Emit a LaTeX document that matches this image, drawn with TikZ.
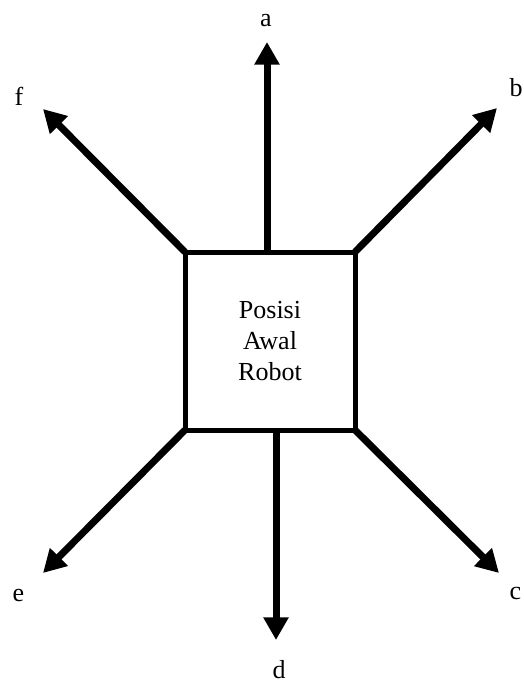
\documentclass[tikz,border=0pt]{standalone}
\usepackage{fontspec}
\setmainfont{Liberation Serif}
\newfontfamily\lserif{Liberation Serif}
\usetikzlibrary{arrows.meta}
\begin{document}
\begin{tikzpicture}[x=0.75pt,y=-0.75pt,
  txt/.style={font=\lserif\fontsize{19.5pt}{23.25pt}\selectfont, inner sep=0pt},
  robotbox/.style={draw, line width=3.75pt, minimum width=127.5pt, minimum height=133.5pt, inner sep=0pt, outer sep=0pt, align=center, txt},
  arr/.style={line width=5.25pt, -{Triangle[length=17pt,width=18pt]}}]
\useasboundingbox (0,0) rectangle (524,682);
\node[robotbox] (box) at (270,341) {Posisi\\Awal\\Robot};
\coordinate (ta) at (267,42);
\coordinate (tb) at (497,108);
\coordinate (tc) at (499,573);
\coordinate (td) at (276,640);
\coordinate (te) at (43,573);
\coordinate (tf) at (43,109);
\draw[arr] (ta |- box.north) -- (ta);
\draw[arr] (td |- box.south) -- (td);
\draw[arr] (box.north east) -- (tb);
\draw[arr] (box.south east) -- (tc);
\draw[arr] (box.south west) -- (te);
\draw[arr] (box.north west) -- (tf);
\node[txt] (la) at (266,21) {a};
\node[txt] (lb) at (516,88) {b};
\node[txt] (lc) at (515.5,593) {c};
\node[txt] (ld) at (279,670) {d};
\node[txt] (le) at (18.5,595) {e};
\node[txt] (lf) at (19,96) {f};
\end{tikzpicture}
\end{document}
